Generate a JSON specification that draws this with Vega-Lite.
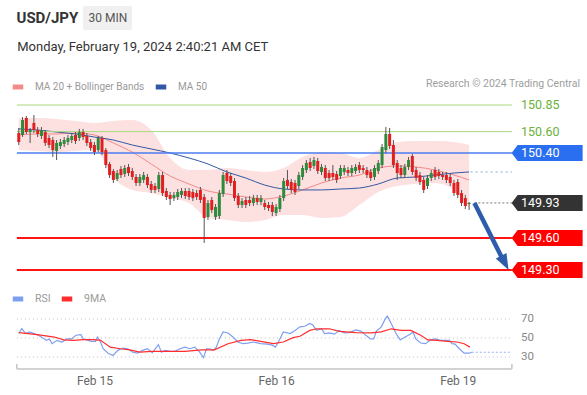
{
"$schema": "https://vega.github.io/schema/vega-lite/v6.json",
"width": 587, "height": 395,
"autosize": {"type": "fit", "contains": "padding"},
"padding": 0,
"background": "white",
"config": {"view": {"stroke": null}, "font": "Roboto"},
"datasets": {
"candles": [
{"i":0,"o":150.587,"h":150.634,"l":150.474,"c":150.502},
{"i":1,"o":150.568,"h":150.737,"l":150.549,"c":150.709},
{"i":2,"o":150.728,"h":150.747,"l":150.578,"c":150.596},
{"i":3,"o":150.596,"h":150.634,"l":150.493,"c":150.615},
{"i":4,"o":150.681,"h":150.756,"l":150.587,"c":150.615},
{"i":5,"o":150.615,"h":150.643,"l":150.549,"c":150.578},
{"i":6,"o":150.559,"h":150.643,"l":150.531,"c":150.615},
{"i":7,"o":150.596,"h":150.615,"l":150.465,"c":150.493},
{"i":8,"o":150.540,"h":150.568,"l":150.446,"c":150.474},
{"i":9,"o":150.521,"h":150.549,"l":150.362,"c":150.427},
{"i":10,"o":150.418,"h":150.521,"l":150.333,"c":150.493},
{"i":11,"o":150.465,"h":150.531,"l":150.437,"c":150.502},
{"i":12,"o":150.484,"h":150.549,"l":150.455,"c":150.521},
{"i":13,"o":150.502,"h":150.568,"l":150.474,"c":150.540},
{"i":14,"o":150.521,"h":150.587,"l":150.493,"c":150.559},
{"i":15,"o":150.568,"h":150.596,"l":150.484,"c":150.512},
{"i":16,"o":150.540,"h":150.625,"l":150.512,"c":150.596},
{"i":17,"o":150.596,"h":150.625,"l":150.521,"c":150.549},
{"i":18,"o":150.559,"h":150.587,"l":150.465,"c":150.493},
{"i":19,"o":150.502,"h":150.531,"l":150.418,"c":150.446},
{"i":20,"o":150.474,"h":150.502,"l":150.380,"c":150.408},
{"i":21,"o":150.427,"h":150.559,"l":150.408,"c":150.540},
{"i":22,"o":150.540,"h":150.559,"l":150.380,"c":150.408},
{"i":23,"o":150.427,"h":150.446,"l":150.258,"c":150.286},
{"i":24,"o":150.296,"h":150.315,"l":150.164,"c":150.192},
{"i":25,"o":150.230,"h":150.249,"l":150.117,"c":150.146},
{"i":26,"o":150.155,"h":150.239,"l":150.136,"c":150.211},
{"i":27,"o":150.249,"h":150.277,"l":150.164,"c":150.192},
{"i":28,"o":150.202,"h":150.286,"l":150.174,"c":150.258},
{"i":29,"o":150.268,"h":150.296,"l":150.183,"c":150.211},
{"i":30,"o":150.230,"h":150.258,"l":150.146,"c":150.174},
{"i":31,"o":150.174,"h":150.202,"l":150.089,"c":150.117},
{"i":32,"o":150.117,"h":150.202,"l":150.089,"c":150.174},
{"i":33,"o":150.146,"h":150.221,"l":150.117,"c":150.192},
{"i":34,"o":150.174,"h":150.202,"l":150.070,"c":150.098},
{"i":35,"o":150.108,"h":150.136,"l":150.023,"c":150.052},
{"i":36,"o":150.089,"h":150.117,"l":150.023,"c":150.052},
{"i":37,"o":150.061,"h":150.221,"l":150.033,"c":150.192},
{"i":38,"o":150.192,"h":150.221,"l":149.995,"c":150.023},
{"i":39,"o":150.042,"h":150.070,"l":149.958,"c":149.986},
{"i":40,"o":150.005,"h":150.033,"l":149.911,"c":149.967},
{"i":41,"o":149.976,"h":150.033,"l":149.948,"c":150.005},
{"i":42,"o":149.986,"h":150.061,"l":149.958,"c":150.033},
{"i":43,"o":150.005,"h":150.070,"l":149.976,"c":150.042},
{"i":44,"o":150.042,"h":150.070,"l":149.967,"c":149.995},
{"i":45,"o":150.042,"h":150.070,"l":149.958,"c":149.986},
{"i":46,"o":150.033,"h":150.061,"l":149.948,"c":149.976},
{"i":47,"o":150.023,"h":150.052,"l":149.958,"c":149.986},
{"i":48,"o":150.052,"h":150.080,"l":149.929,"c":149.958},
{"i":49,"o":149.986,"h":150.014,"l":149.554,"c":149.789},
{"i":50,"o":149.798,"h":149.958,"l":149.770,"c":149.929},
{"i":51,"o":149.958,"h":149.986,"l":149.835,"c":149.864},
{"i":52,"o":149.798,"h":149.920,"l":149.770,"c":149.892},
{"i":53,"o":149.807,"h":150.052,"l":149.779,"c":150.023},
{"i":54,"o":150.014,"h":150.221,"l":149.986,"c":150.192},
{"i":55,"o":150.211,"h":150.239,"l":150.108,"c":150.136},
{"i":56,"o":150.183,"h":150.211,"l":150.089,"c":150.117},
{"i":57,"o":150.136,"h":150.164,"l":149.948,"c":149.976},
{"i":58,"o":149.995,"h":150.023,"l":149.882,"c":149.911},
{"i":59,"o":149.911,"h":149.976,"l":149.882,"c":149.948},
{"i":60,"o":149.958,"h":149.986,"l":149.882,"c":149.911},
{"i":61,"o":149.958,"h":149.995,"l":149.901,"c":149.929},
{"i":62,"o":149.929,"h":150.005,"l":149.901,"c":149.976},
{"i":63,"o":149.976,"h":150.005,"l":149.911,"c":149.939},
{"i":64,"o":149.939,"h":150.005,"l":149.911,"c":149.976},
{"i":65,"o":149.929,"h":149.958,"l":149.864,"c":149.892},
{"i":66,"o":149.911,"h":149.939,"l":149.854,"c":149.882},
{"i":67,"o":149.911,"h":149.939,"l":149.807,"c":149.845},
{"i":68,"o":149.835,"h":149.920,"l":149.807,"c":149.892},
{"i":69,"o":149.873,"h":150.005,"l":149.845,"c":149.976},
{"i":70,"o":149.976,"h":150.164,"l":149.948,"c":150.136},
{"i":71,"o":150.146,"h":150.239,"l":150.061,"c":150.089},
{"i":72,"o":150.127,"h":150.155,"l":150.023,"c":150.052},
{"i":73,"o":150.117,"h":150.146,"l":150.005,"c":150.033},
{"i":74,"o":150.089,"h":150.221,"l":150.061,"c":150.192},
{"i":75,"o":150.174,"h":150.286,"l":150.146,"c":150.258},
{"i":76,"o":150.239,"h":150.333,"l":150.211,"c":150.305},
{"i":77,"o":150.315,"h":150.352,"l":150.230,"c":150.258},
{"i":78,"o":150.277,"h":150.362,"l":150.249,"c":150.333},
{"i":79,"o":150.324,"h":150.352,"l":150.202,"c":150.230},
{"i":80,"o":150.221,"h":150.296,"l":150.192,"c":150.268},
{"i":81,"o":150.258,"h":150.286,"l":150.136,"c":150.164},
{"i":82,"o":150.211,"h":150.239,"l":150.136,"c":150.164},
{"i":83,"o":150.211,"h":150.286,"l":150.146,"c":150.174},
{"i":84,"o":150.202,"h":150.230,"l":150.117,"c":150.146},
{"i":85,"o":150.183,"h":150.286,"l":150.155,"c":150.258},
{"i":86,"o":150.221,"h":150.286,"l":150.192,"c":150.258},
{"i":87,"o":150.239,"h":150.268,"l":150.183,"c":150.211},
{"i":88,"o":150.211,"h":150.286,"l":150.183,"c":150.258},
{"i":89,"o":150.230,"h":150.296,"l":150.202,"c":150.268},
{"i":90,"o":150.286,"h":150.315,"l":150.211,"c":150.239},
{"i":91,"o":150.258,"h":150.286,"l":150.211,"c":150.239},
{"i":92,"o":150.239,"h":150.268,"l":150.164,"c":150.192},
{"i":93,"o":150.221,"h":150.249,"l":150.136,"c":150.164},
{"i":94,"o":150.174,"h":150.286,"l":150.146,"c":150.258},
{"i":95,"o":150.230,"h":150.333,"l":150.202,"c":150.305},
{"i":96,"o":150.286,"h":150.484,"l":150.258,"c":150.455},
{"i":97,"o":150.427,"h":150.643,"l":150.399,"c":150.578},
{"i":98,"o":150.578,"h":150.634,"l":150.437,"c":150.465},
{"i":99,"o":150.474,"h":150.521,"l":150.258,"c":150.286},
{"i":100,"o":150.305,"h":150.333,"l":150.146,"c":150.211},
{"i":101,"o":150.258,"h":150.286,"l":150.164,"c":150.192},
{"i":102,"o":150.192,"h":150.296,"l":150.164,"c":150.268},
{"i":103,"o":150.268,"h":150.362,"l":150.239,"c":150.333},
{"i":104,"o":150.371,"h":150.390,"l":150.192,"c":150.221},
{"i":105,"o":150.239,"h":150.268,"l":150.136,"c":150.164},
{"i":106,"o":150.192,"h":150.221,"l":150.098,"c":150.127},
{"i":107,"o":150.146,"h":150.174,"l":150.023,"c":150.052},
{"i":108,"o":150.089,"h":150.192,"l":150.061,"c":150.164},
{"i":109,"o":150.164,"h":150.239,"l":150.136,"c":150.211},
{"i":110,"o":150.239,"h":150.268,"l":150.146,"c":150.174},
{"i":111,"o":150.221,"h":150.249,"l":150.155,"c":150.183},
{"i":112,"o":150.192,"h":150.221,"l":150.146,"c":150.174},
{"i":113,"o":150.192,"h":150.221,"l":150.117,"c":150.146},
{"i":114,"o":150.174,"h":150.202,"l":150.089,"c":150.117},
{"i":115,"o":150.117,"h":150.146,"l":149.995,"c":150.023},
{"i":116,"o":150.127,"h":150.155,"l":149.976,"c":150.005},
{"i":117,"o":150.023,"h":150.052,"l":149.901,"c":149.929},
{"i":118,"o":149.976,"h":150.005,"l":149.873,"c":149.901},
{"i":119,"o":149.920,"h":149.939,"l":149.864,"c":149.930}
],
"ind": [
{"i":0,"up":150.728,"lo":150.427,"ma20":150.568,"ma50":150.625},
{"i":5,"up":150.728,"lo":150.418,"ma20":150.578,"ma50":150.615},
{"i":10,"up":150.718,"lo":150.408,"ma20":150.578,"ma50":150.596},
{"i":15,"up":150.700,"lo":150.418,"ma20":150.587,"ma50":150.578},
{"i":20,"up":150.681,"lo":150.427,"ma20":150.568,"ma50":150.549},
{"i":25,"up":150.700,"lo":150.164,"ma20":150.493,"ma50":150.521},
{"i":30,"up":150.709,"lo":150.052,"ma20":150.408,"ma50":150.474},
{"i":35,"up":150.615,"lo":150.023,"ma20":150.296,"ma50":150.437},
{"i":40,"up":150.352,"lo":149.976,"ma20":150.183,"ma50":150.399},
{"i":45,"up":150.239,"lo":149.929,"ma20":150.108,"ma50":150.352},
{"i":50,"up":150.239,"lo":149.789,"ma20":150.042,"ma50":150.296},
{"i":55,"up":150.258,"lo":149.770,"ma20":150.014,"ma50":150.221},
{"i":60,"up":150.239,"lo":149.751,"ma20":149.986,"ma50":150.164},
{"i":65,"up":150.221,"lo":149.770,"ma20":149.967,"ma50":150.098},
{"i":70,"up":150.258,"lo":149.817,"ma20":149.995,"ma50":150.061},
{"i":75,"up":150.362,"lo":149.817,"ma20":150.052,"ma50":150.052},
{"i":80,"up":150.408,"lo":149.789,"ma20":150.117,"ma50":150.052},
{"i":85,"up":150.399,"lo":149.798,"ma20":150.164,"ma50":150.061},
{"i":90,"up":150.352,"lo":149.911,"ma20":150.192,"ma50":150.070},
{"i":95,"up":150.427,"lo":150.033,"ma20":150.258,"ma50":150.108},
{"i":100,"up":150.502,"lo":150.089,"ma20":150.277,"ma50":150.164},
{"i":105,"up":150.512,"lo":150.108,"ma20":150.268,"ma50":150.174},
{"i":110,"up":150.512,"lo":150.117,"ma20":150.239,"ma50":150.192},
{"i":115,"up":150.502,"lo":150.052,"ma20":150.192,"ma50":150.211},
{"i":119,"up":150.474,"lo":149.882,"ma20":150.146,"ma50":150.221}
],
"levels": [
{"v":150.85,"role":"resistance"},
{"v":150.60,"role":"resistance"},
{"v":150.40,"role":"pivot"},
{"v":149.93,"role":"last"},
{"v":149.60,"role":"support"},
{"v":149.30,"role":"support"}
],
"gridlevels": [{"g":70},{"g":50},{"g":30}],
"osc": [
{"i":0.0,"v":54.7,"s":"RSI"},{"i":0.8,"v":60,"s":"RSI"},{"i":1.8,"v":54.7,"s":"RSI"},{"i":2.9,"v":56.4,"s":"RSI"},{"i":4.7,"v":53.6,"s":"RSI"},{"i":6.0,"v":51,"s":"RSI"},{"i":7.3,"v":47.5,"s":"RSI"},{"i":8.1,"v":49,"s":"RSI"},{"i":8.8,"v":44,"s":"RSI"},{"i":10.1,"v":47.5,"s":"RSI"},{"i":11.4,"v":45.8,"s":"RSI"},{"i":12.7,"v":49,"s":"RSI"},{"i":14.0,"v":49,"s":"RSI"},{"i":15.1,"v":52.9,"s":"RSI"},{"i":16.4,"v":53.6,"s":"RSI"},{"i":17.1,"v":49,"s":"RSI"},{"i":17.9,"v":48,"s":"RSI"},{"i":19.2,"v":46.5,"s":"RSI"},{"i":20.3,"v":46.5,"s":"RSI"},{"i":20.8,"v":51,"s":"RSI"},{"i":21.6,"v":45.8,"s":"RSI"},{"i":22.3,"v":38.7,"s":"RSI"},{"i":23.6,"v":34,"s":"RSI"},{"i":24.9,"v":31.6,"s":"RSI"},{"i":26.2,"v":37,"s":"RSI"},{"i":27.5,"v":39.4,"s":"RSI"},{"i":28.8,"v":38.7,"s":"RSI"},{"i":30.1,"v":35.1,"s":"RSI"},{"i":31.4,"v":34,"s":"RSI"},{"i":32.7,"v":37,"s":"RSI"},{"i":34.0,"v":38.7,"s":"RSI"},{"i":35.3,"v":34.5,"s":"RSI"},{"i":36.1,"v":38.7,"s":"RSI"},{"i":36.9,"v":43,"s":"RSI"},{"i":37.7,"v":35.1,"s":"RSI"},{"i":38.7,"v":37,"s":"RSI"},{"i":40.0,"v":36,"s":"RSI"},{"i":41.3,"v":36,"s":"RSI"},{"i":42.6,"v":38.7,"s":"RSI"},{"i":43.9,"v":40.4,"s":"RSI"},{"i":45.2,"v":38.7,"s":"RSI"},{"i":46.5,"v":40.4,"s":"RSI"},{"i":47.8,"v":35.1,"s":"RSI"},{"i":48.8,"v":29.2,"s":"RSI"},{"i":49.6,"v":38.7,"s":"RSI"},{"i":50.4,"v":38.7,"s":"RSI"},{"i":51.4,"v":37,"s":"RSI"},{"i":52.2,"v":40.4,"s":"RSI"},{"i":53.0,"v":49,"s":"RSI"},{"i":54.0,"v":56.4,"s":"RSI"},{"i":55.3,"v":55.3,"s":"RSI"},{"i":56.6,"v":51,"s":"RSI"},{"i":57.9,"v":45.8,"s":"RSI"},{"i":59.2,"v":44,"s":"RSI"},{"i":60.5,"v":44.7,"s":"RSI"},{"i":62.1,"v":45.8,"s":"RSI"},{"i":63.9,"v":44,"s":"RSI"},{"i":65.7,"v":43.5,"s":"RSI"},{"i":67.0,"v":42.5,"s":"RSI"},{"i":67.8,"v":40.4,"s":"RSI"},{"i":68.6,"v":45.8,"s":"RSI"},{"i":69.9,"v":56.4,"s":"RSI"},{"i":71.7,"v":54.7,"s":"RSI"},{"i":73.0,"v":58,"s":"RSI"},{"i":74.3,"v":61.7,"s":"RSI"},{"i":75.6,"v":62.4,"s":"RSI"},{"i":76.9,"v":65.3,"s":"RSI"},{"i":77.7,"v":63.6,"s":"RSI"},{"i":78.7,"v":58,"s":"RSI"},{"i":80.0,"v":59.7,"s":"RSI"},{"i":80.8,"v":54.7,"s":"RSI"},{"i":82.1,"v":55.3,"s":"RSI"},{"i":83.4,"v":54,"s":"RSI"},{"i":84.7,"v":58,"s":"RSI"},{"i":86.0,"v":55.3,"s":"RSI"},{"i":87.3,"v":55.7,"s":"RSI"},{"i":89.1,"v":58.6,"s":"RSI"},{"i":90.4,"v":57.3,"s":"RSI"},{"i":91.7,"v":52.9,"s":"RSI"},{"i":93.0,"v":49,"s":"RSI"},{"i":93.8,"v":49,"s":"RSI"},{"i":94.5,"v":57.3,"s":"RSI"},{"i":95.8,"v":61.7,"s":"RSI"},{"i":96.9,"v":70.6,"s":"RSI"},{"i":97.4,"v":73,"s":"RSI"},{"i":98.4,"v":65.3,"s":"RSI"},{"i":99.7,"v":54.7,"s":"RSI"},{"i":100.8,"v":48,"s":"RSI"},{"i":102.1,"v":51,"s":"RSI"},{"i":103.4,"v":54,"s":"RSI"},{"i":104.2,"v":56.4,"s":"RSI"},{"i":104.9,"v":49,"s":"RSI"},{"i":106.2,"v":44.7,"s":"RSI"},{"i":107.5,"v":44,"s":"RSI"},{"i":108.8,"v":48,"s":"RSI"},{"i":110.1,"v":49,"s":"RSI"},{"i":111.4,"v":47.5,"s":"RSI"},{"i":112.7,"v":47.5,"s":"RSI"},{"i":113.8,"v":47.5,"s":"RSI"},{"i":114.5,"v":44,"s":"RSI"},{"i":115.3,"v":43.5,"s":"RSI"},{"i":116.4,"v":38.7,"s":"RSI"},{"i":117.7,"v":34,"s":"RSI"},{"i":119.0,"v":34,"s":"RSI"},{"i":119.7,"v":35,"s":"RSI"},
{"i":0,"v":55.7,"s":"9MA"},{"i":4.9,"v":53.6,"s":"9MA"},{"i":9.4,"v":51,"s":"9MA"},{"i":11.9,"v":48,"s":"9MA"},{"i":14.5,"v":47.5,"s":"9MA"},{"i":17.1,"v":48.3,"s":"9MA"},{"i":19.7,"v":48.3,"s":"9MA"},{"i":21.6,"v":47.5,"s":"9MA"},{"i":24.2,"v":40.4,"s":"9MA"},{"i":26.8,"v":38.7,"s":"9MA"},{"i":29.4,"v":37.5,"s":"9MA"},{"i":31.9,"v":35.1,"s":"9MA"},{"i":35.3,"v":36,"s":"9MA"},{"i":39.7,"v":36,"s":"9MA"},{"i":43.9,"v":36,"s":"9MA"},{"i":48.3,"v":37.5,"s":"9MA"},{"i":51.7,"v":37.5,"s":"9MA"},{"i":55.3,"v":44,"s":"9MA"},{"i":58.7,"v":47.5,"s":"9MA"},{"i":61.3,"v":48.3,"s":"9MA"},{"i":63.9,"v":46.5,"s":"9MA"},{"i":67.3,"v":44,"s":"9MA"},{"i":69.9,"v":45.8,"s":"9MA"},{"i":72.5,"v":50.4,"s":"9MA"},{"i":74.3,"v":51.8,"s":"9MA"},{"i":76.9,"v":58,"s":"9MA"},{"i":78.7,"v":59.7,"s":"9MA"},{"i":82.1,"v":59.7,"s":"9MA"},{"i":84.7,"v":57,"s":"9MA"},{"i":89.1,"v":55.7,"s":"9MA"},{"i":93.2,"v":55.3,"s":"9MA"},{"i":95.8,"v":56.4,"s":"9MA"},{"i":98.4,"v":59.7,"s":"9MA"},{"i":101.0,"v":58,"s":"9MA"},{"i":103.6,"v":58,"s":"9MA"},{"i":106.2,"v":52.9,"s":"9MA"},{"i":108.1,"v":48,"s":"9MA"},{"i":110.6,"v":47.5,"s":"9MA"},{"i":113.2,"v":46.5,"s":"9MA"},{"i":115.8,"v":45.8,"s":"9MA"},{"i":117.7,"v":44,"s":"9MA"},{"i":119.2,"v":40.4,"s":"9MA"}
]
},
"layer": [
{
"layer": [
{"data":{"name":"ind"},"mark":{"type":"area","color":"#fde0e0","interpolate":"monotone"},
 "encoding":{"x":{"field":"i","type":"quantitative","scale":{"domain":[-3.636,148.831],"nice":false,"zero":false},
   "axis":{"values":[20,68,116],"labelExpr":"datum.value==20?'Feb 15':(datum.value==68?'Feb 16':'Feb 19')","ticks":false,"domain":false,"grid":false,"offset":-26,"labelPadding":6,"labelColor":"#666666","labelFontSize":12,"labelFont":"Roboto","title":null,"labelOverlap":false}},
  "y":{"field":"up","type":"quantitative","scale":{"domain":[148.1257,151.8364],"nice":false,"zero":false},"axis":null},
  "y2":{"field":"lo"}}},
{"data":{"name":"ind"},"mark":{"type":"line","strokeWidth":1,"interpolate":"monotone"},
 "encoding":{"x":{"field":"i","type":"quantitative"},
  "y":{"field":"ma20","type":"quantitative","axis":null},
  "color":{"datum":"MA 20 + Bollinger Bands","type":"nominal","scale":{"domain":["MA 20 + Bollinger Bands","MA 50"],"range":["#f38a8a","#3358a3"]},
   "legend":{"title":null,"orient":"none","legendX":10,"legendY":79,"direction":"horizontal","symbolType":"stroke","symbolStrokeWidth":5,"symbolSize":110,"labelFontSize":10,"labelColor":"#9a9a9a","labelFont":"Roboto","columnPadding":0,"labelOffset":9}}}},
{"data":{"name":"ind"},"mark":{"type":"line","strokeWidth":1,"interpolate":"monotone"},
 "encoding":{"x":{"field":"i","type":"quantitative"},
  "y":{"field":"ma50","type":"quantitative","axis":null},
  "color":{"datum":"MA 50","type":"nominal"}}},
{"data":{"name":"levels"},"transform":[{"filter":"datum.role=='resistance'"}],"mark":{"type":"rule","color":"#a9d87f","strokeWidth":1},
 "encoding":{"x":{"datum":-0.5,"type":"quantitative"},"x2":{"datum":130.3},"y":{"field":"v","type":"quantitative","axis":null}}},
{"data":{"name":"levels"},"transform":[{"filter":"datum.role=='pivot'"}],"mark":{"type":"rule","color":"#4a7cf0","strokeWidth":1.5},
 "encoding":{"x":{"datum":-0.5,"type":"quantitative"},"x2":{"datum":130.3},"y":{"field":"v","type":"quantitative","axis":null}}},
{"data":{"name":"levels"},"transform":[{"filter":"datum.role=='support'"}],"mark":{"type":"rule","color":"#ff1414","strokeWidth":2},
 "encoding":{"x":{"datum":-0.5,"type":"quantitative"},"x2":{"datum":130.3},"y":{"field":"v","type":"quantitative","axis":null}}},
{"data":{"name":"levels"},"transform":[{"filter":"datum.role=='last'"}],"mark":{"type":"rule","color":"#777777","strokeWidth":1,"strokeDash":[2,2]},
 "encoding":{"x":{"datum":120.4,"type":"quantitative"},"x2":{"datum":130.3},"y":{"field":"v","type":"quantitative","axis":null}}},
{"data":{"values":[{"v":150.221}]},"mark":{"type":"rule","color":"#8fa8d8","strokeWidth":1,"strokeDash":[2,3]},
 "encoding":{"x":{"datum":119.4,"type":"quantitative"},"x2":{"datum":130.3},"y":{"field":"v","type":"quantitative","axis":null}}},
{"data":{"name":"candles"},"mark":{"type":"rule","color":"#555555","strokeWidth":1},
 "encoding":{"x":{"field":"i","type":"quantitative"},"y":{"field":"l","type":"quantitative","axis":null},"y2":{"field":"h"}}},
{"data":{"name":"candles"},"transform":[{"filter":"datum.c >= datum.o"}],"mark":{"type":"bar","size":3,"color":"#2e8a3c"},
 "encoding":{"x":{"field":"i","type":"quantitative"},"y":{"field":"o","type":"quantitative","axis":null},"y2":{"field":"c"}}},
{"data":{"name":"candles"},"transform":[{"filter":"datum.c < datum.o"}],"mark":{"type":"bar","size":3,"color":"#e02020"},
 "encoding":{"x":{"field":"i","type":"quantitative"},"y":{"field":"o","type":"quantitative","axis":null},"y2":{"field":"c"}}},
{"data":{"name":"levels"},"transform":[{"filter":"datum.role=='pivot'"}],"mark":{"type":"point","filled":true,"opacity":1,"shape":"M-1,0L-0.83,-0.225L1,-0.225L1,0.225L-0.83,0.225Z","size":5041,"color":"#2a6ff0"},
 "encoding":{"x":{"datum":139.61,"type":"quantitative"},"y":{"field":"v","type":"quantitative","axis":null}}},
{"data":{"name":"levels"},"transform":[{"filter":"datum.role=='last'"}],"mark":{"type":"point","filled":true,"opacity":1,"shape":"M-1,0L-0.83,-0.225L1,-0.225L1,0.225L-0.83,0.225Z","size":5041,"color":"#333333"},
 "encoding":{"x":{"datum":139.61,"type":"quantitative"},"y":{"field":"v","type":"quantitative","axis":null}}},
{"data":{"name":"levels"},"transform":[{"filter":"datum.role=='support'"}],"mark":{"type":"point","filled":true,"opacity":1,"shape":"M-1,0L-0.83,-0.225L1,-0.225L1,0.225L-0.83,0.225Z","size":5041,"color":"#ff0000"},
 "encoding":{"x":{"datum":139.61,"type":"quantitative"},"y":{"field":"v","type":"quantitative","axis":null}}},
{"data":{"name":"levels"},"transform":[{"filter":"datum.role!='resistance'"}],"mark":{"type":"text","align":"left","baseline":"middle","fontSize":12.5,"color":"white","font":"Roboto"},
 "encoding":{"x":{"datum":132.73,"type":"quantitative"},"y":{"field":"v","type":"quantitative","axis":null},"text":{"field":"v","type":"quantitative","format":".2f"}}},
{"data":{"name":"levels"},"transform":[{"filter":"datum.role=='resistance'"}],"mark":{"type":"text","align":"left","baseline":"middle","fontSize":12.5,"color":"#6ab23a","font":"Roboto"},
 "encoding":{"x":{"datum":132.73,"type":"quantitative"},"y":{"field":"v","type":"quantitative","axis":null},"text":{"field":"v","type":"quantitative","format":".2f"}}},
{"data":{"values":[{}]},"mark":{"type":"rule","color":"#2c5cab","strokeWidth":4.5},
 "encoding":{"x":{"datum":120.4,"type":"quantitative"},"y":{"datum":149.93,"type":"quantitative"},"x2":{"datum":127.9},"y2":{"datum":149.3995}}},
{"data":{"values":[{}]},"mark":{"type":"point","filled":true,"opacity":1,"shape":"M0,1L-0.6,-0.6L0.6,-0.6Z","size":400,"angle":332.4,"color":"#2c5cab"},
 "encoding":{"x":{"datum":128.2,"type":"quantitative"},"y":{"datum":149.3836,"type":"quantitative"}}},
{"data":{"values":[{}]},"mark":{"type":"rect","color":"#f0f0f0","cornerRadius":2},
 "encoding":{"x":{"datum":16.96,"type":"quantitative"},"x2":{"datum":29.95},"y":{"datum":151.78,"type":"quantitative"},"y2":{"datum":151.5546}}},
{"data":{"values":[{}]},"mark":{"type":"text","text":"30 MIN","align":"center","baseline":"middle","fontSize":12,"color":"#555555","font":"Roboto"},
 "encoding":{"x":{"datum":23.56,"type":"quantitative"},"y":{"datum":151.6673,"type":"quantitative"}}},
{"data":{"values":[{}]},"mark":{"type":"text","text":"USD/JPY","align":"left","baseline":"middle","fontSize":15,"fontWeight":"bold","color":"#333333","font":"Roboto"},
 "encoding":{"x":{"datum":-0.6,"type":"quantitative"},"y":{"datum":151.6673,"type":"quantitative"}}},
{"data":{"values":[{}]},"mark":{"type":"text","text":"Monday, February 19, 2024 2:40:21 AM CET","align":"left","baseline":"middle","fontSize":13,"color":"#333333","font":"Roboto"},
 "encoding":{"x":{"datum":-0.4,"type":"quantitative"},"y":{"datum":151.3949,"type":"quantitative"}}},
{"data":{"values":[{}]},"mark":{"type":"text","text":"Research © 2024 Trading Central","align":"right","baseline":"middle","fontSize":10.5,"color":"#9e9e9e","font":"Roboto"},
 "encoding":{"x":{"datum":148.3,"type":"quantitative"},"y":{"datum":151.0473,"type":"quantitative"}}}
]
},
{
"layer": [
{"data":{"name":"gridlevels"},"mark":{"type":"rule","color":"#bdbdbd","strokeWidth":1,"strokeDash":[1,3]},
 "encoding":{"x":{"datum":-0.5,"type":"quantitative"},"x2":{"datum":130.3},
  "y":{"field":"g","type":"quantitative","scale":{"domain":[-10,405.79],"nice":false,"zero":false},"axis":null}}},
{"data":{"name":"gridlevels"},"mark":{"type":"text","align":"left","baseline":"middle","fontSize":11.5,"color":"#888888","font":"Roboto"},
 "encoding":{"x":{"datum":132.73,"type":"quantitative"},"y":{"field":"g","type":"quantitative","axis":null},"text":{"field":"g","type":"quantitative"}}},
{"data":{"values":[{"v":35}]},"mark":{"type":"rule","color":"#9db3f0","strokeWidth":1,"strokeDash":[2,2]},
 "encoding":{"x":{"datum":119.7,"type":"quantitative"},"x2":{"datum":130.3},"y":{"field":"v","type":"quantitative","axis":null}}},
{"data":{"name":"osc"},"mark":{"type":"line","strokeWidth":1.2},
 "encoding":{"x":{"field":"i","type":"quantitative"},
  "y":{"field":"v","type":"quantitative","axis":null},
  "color":{"field":"s","type":"nominal","scale":{"domain":["RSI","9MA"],"range":["#7d9ff2","#ff2d2d"]},
   "legend":{"title":null,"orient":"none","legendX":10,"legendY":291,"direction":"horizontal","symbolType":"stroke","symbolStrokeWidth":5,"symbolSize":110,"labelFontSize":10.5,"labelColor":"#9a9a9a","labelFont":"Roboto","columnPadding":0,"labelOffset":9}}}},
{"data":{"values":[{"v":17.37}]},"mark":{"type":"rule","color":"#c4c4c4","strokeWidth":1.5},
 "encoding":{"x":{"datum":-0.5,"type":"quantitative"},"x2":{"datum":130.3},"y":{"field":"v","type":"quantitative","axis":null}}},
{"data":{"values":[{"v":17.37}]},"mark":{"type":"rule","color":"#c4c4c4","strokeWidth":1.5},
 "encoding":{"x":{"datum":-0.5,"type":"quantitative"},"y":{"field":"v","type":"quantitative","axis":null},"y2":{"datum":22.63}}},
{"data":{"values":[{"v":17.37}]},"mark":{"type":"rule","color":"#c4c4c4","strokeWidth":1.5},
 "encoding":{"x":{"datum":130.3,"type":"quantitative"},"y":{"field":"v","type":"quantitative","axis":null},"y2":{"datum":22.63}}}
]
}
],
"resolve": {"scale": {"y": "independent", "color": "independent"}}
}
